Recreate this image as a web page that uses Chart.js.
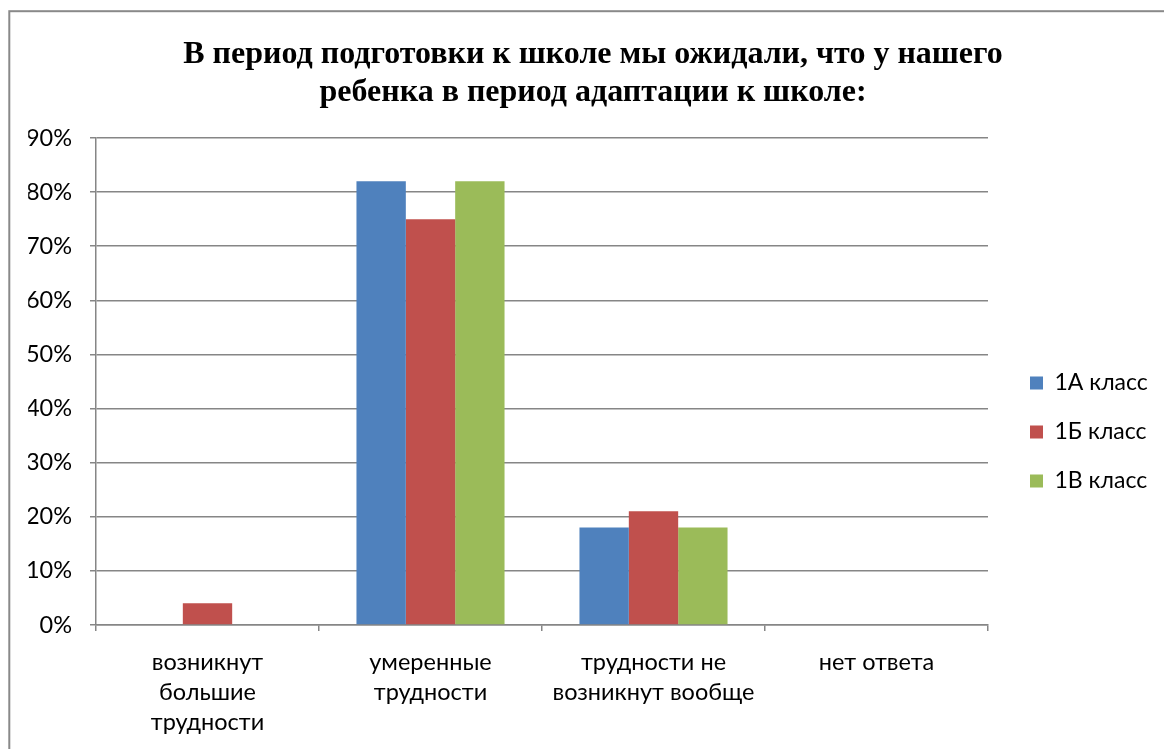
<!DOCTYPE html>
<html>
<head>
<meta charset="utf-8">
<script src="https://cdn.jsdelivr.net/npm/chart.js@4/dist/chart.umd.min.js"></script>
<style>
  html, body { margin: 0; padding: 0; background: #fff; }
  #wrap { width: 1164px; height: 749px; position: relative; }
</style>
</head>
<body>
<div id="wrap"><canvas id="c" width="1164" height="749"></canvas></div>
<script>
const chartTitle = ['В период подготовки к школе мы ожидали, что у нашего', 'ребенка в период адаптации к школе:'];
const categories = [
  ['возникнут', 'большие', 'трудности'],
  ['умеренные', 'трудности'],
  ['трудности не', 'возникнут вообще'],
  ['нет ответа']
];
const seriesNames = ['1А класс', '1Б класс', '1В класс'];
const class1A = [0, 82, 18, 0];
const class1B = [4, 75, 21, 0];
const class1V = [0, 82, 18, 0];
const yTicks = [0, 10, 20, 30, 40, 50, 60, 70, 80, 90];

const FONT = 'Lato';
const FS = 23;
const AXFS = 23.5;
const LEG_PAD = 26;
const BOX = 13;

// legend geometry
const mctx = document.createElement('canvas').getContext('2d');
mctx.font = 'normal ' + FS + 'px ' + FONT;
const tw = Math.max(...seriesNames.map(n => mctx.measureText(n).width));
const legendW = LEG_PAD + BOX + FS / 2 + tw + 10;
const legendLeft = 1004;
const padRight = 1164 - legendLeft - legendW;
const padLeft = padRight + 22;
const plotLeft = 96, plotRight = 988, plotBottom = 625;

const frame = {
  id: 'frame',
  beforeDraw(chart) {
    const ctx = chart.ctx;
    ctx.save();
    ctx.fillStyle = '#fff';
    ctx.fillRect(0, 0, chart.width, chart.height);
    ctx.strokeStyle = '#898989';
    ctx.lineWidth = 2;
    ctx.strokeRect(9.3, 11.2, 1300, 900);
    ctx.restore();
  }
};

new Chart(document.getElementById('c'), {
  type: 'bar',
  data: {
    labels: categories,
    datasets: [
      { label: seriesNames[0], data: class1A, backgroundColor: '#4F81BD' },
      { label: seriesNames[1], data: class1B, backgroundColor: '#C0504D' },
      { label: seriesNames[2], data: class1V, backgroundColor: '#9BBB59' }
    ]
  },
  options: {
    responsive: false,
    animation: false,
    devicePixelRatio: 1,
    layout: { padding: { left: padLeft, right: padRight, top: 0, bottom: 0 } },
    datasets: { bar: { categoryPercentage: 0.664, barPercentage: 1.0, borderWidth: 0 } },
    plugins: {
      title: {
        display: true,
        text: chartTitle,
        color: '#000',
        font: { family: 'Liberation Serif', size: 32, weight: 'bold', lineHeight: '38px' },
        padding: { top: 36, bottom: 26 }
      },
      legend: {
        position: 'right',
        align: 'center',
        title: { display: true, text: ' ', font: { size: 10, lineHeight: 1 }, padding: { top: 105, bottom: 0 } },
        labels: {
          boxWidth: BOX, boxHeight: BOX, padding: LEG_PAD, color: '#000',
          font: { family: FONT, size: FS }
        }
      },
      tooltip: { enabled: false }
    },
    scales: {
      x: {
        offset: true,
        grid: { display: true, drawOnChartArea: false, drawTicks: true, tickLength: 6, offset: true, color: '#868686', lineWidth: 1.5 },
        border: { display: true, color: '#868686', width: 1.5 },
        ticks: { color: '#000', font: { family: FONT, size: AXFS, lineHeight: '30px' }, padding: 16, maxRotation: 0, autoSkip: false },
        afterFit(s) { s.height = 749 - plotBottom; }
      },
      y: {
        min: 0, max: 90,
        afterBuildTicks(s) { s.ticks = yTicks.map(v => ({ value: v })); },
        grid: { color: '#868686', lineWidth: 1.5, tickLength: 6, drawTicks: true },
        border: { display: true, color: '#868686', width: 1.5 },
        ticks: { color: '#000', font: { family: FONT, size: AXFS }, padding: 18, callback: v => v + '%' },
        afterFit(s) { s.width = plotLeft - padLeft; }
      },
      gap: {
        type: 'linear', position: 'right', display: true,
        grid: { display: false, drawTicks: false },
        border: { display: false },
        ticks: { display: false },
        afterFit(s) { s.width = legendLeft - plotRight; }
      }
    }
  },
  plugins: [frame]
});
</script>
</body>
</html>
